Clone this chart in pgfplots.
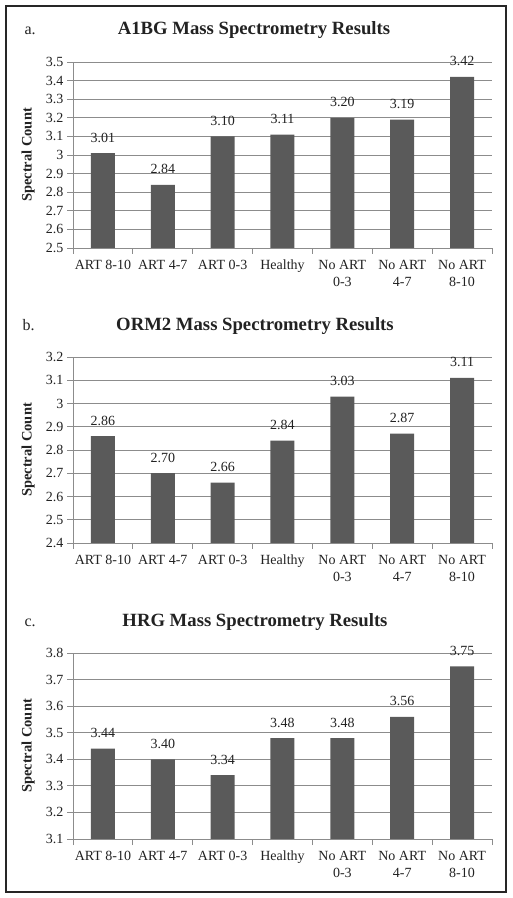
\documentclass[border=0pt]{standalone}
\usepackage{pgfplots}
\pgfplotsset{compat=1.18}
\usepackage{fontspec}
\setmainfont{Liberation Serif}
\definecolor{barc}{HTML}{5A5A5A}
\definecolor{gridc}{HTML}{8C8C8C}
\definecolor{txt}{HTML}{222222}
\pgfplotsset{
  mychart/.style={
    scale only axis, width=419pt, height=186pt,
    xmin=-0.5, xmax=6.5,
    axis lines*=left,
    axis line style={draw=gridc, line width=0.8pt},
    xtick={0,1,2,3,4,5,6},
    xticklabels={{\strut ART 8-10}, {\strut ART 4-7}, {\strut ART 0-3}, {\strut Healthy}, {\strut No ART\\0-3}, {\strut No ART\\4-7}, {\strut No ART\\8-10}},
    xticklabel style={align=center, font=\fontsize{14}{17}\selectfont, text=txt, anchor=north, yshift=0pt},
    yticklabel style={font=\fontsize{14}{15}\selectfont, text=txt},
    /pgf/number format/assume math mode=true,
    minor xtick={-0.5,0.5,1.5,2.5,3.5,4.5,5.5,6.5},
    major tick length=6pt, minor tick length=6pt,
    tick align=outside,
    tick style={draw=gridc, line width=0.8pt},
    major x tick style={draw=none},
    ymajorgrids, grid style={draw=gridc, line width=0.8pt},
    clip mode=individual,
    ylabel={Spectral Count},
    every axis y label/.style={at={(axis description cs:-0.107,0.5)}, rotate=90, anchor=center, font=\bfseries\fontsize{14.5}{16}\selectfont, text=txt},
    ybar, bar width=24pt,
    nodes near coords={\pgfmathprintnumber[fixed,fixed zerofill,precision=2]{\pgfplotspointmeta}},
    every node near coord/.append style={anchor=base, yshift=11pt, font=\fontsize{14}{15}\selectfont, text=txt},
  }
}
\begin{document}
\begin{tikzpicture}[x=1pt,y=1pt]
\useasboundingbox (0,0) rectangle (512,898);
\draw[line width=1.2pt, black!85] (6,6) rectangle (506,892);
% panel a
\node[font=\fontsize{16}{18}\selectfont, text=txt, anchor=base west] at (21,863) {a.};
\node[font=\bfseries\fontsize{18.7}{20}\selectfont, text=txt, anchor=base] at (254,863) {A1BG Mass Spectrometry Results};
\begin{axis}[mychart, at={(73pt,650pt)}, anchor=south west, ymin=2.5, ymax=3.5,
  ytick={2.5,2.6,2.7,2.8,2.9,3,3.1,3.2,3.3,3.4,3.5}]
\addplot[fill=barc, draw=none] coordinates {(0,3.01) (1,2.84) (2,3.10) (3,3.11) (4,3.20) (5,3.19) (6,3.42)};
\end{axis}
% panel b
\node[font=\fontsize{16}{18}\selectfont, text=txt, anchor=base west] at (19,567) {b.};
\node[font=\bfseries\fontsize{18.7}{20}\selectfont, text=txt, anchor=base] at (255,567) {ORM2 Mass Spectrometry Results};
\begin{axis}[mychart, at={(73pt,355pt)}, anchor=south west, ymin=2.4, ymax=3.2,
  ytick={2.4,2.5,2.6,2.7,2.8,2.9,3,3.1,3.2}]
\addplot[fill=barc, draw=none] coordinates {(0,2.86) (1,2.70) (2,2.66) (3,2.84) (4,3.03) (5,2.87) (6,3.11)};
\end{axis}
% panel c
\node[font=\fontsize{16}{18}\selectfont, text=txt, anchor=base west] at (21,271) {c.};
\node[font=\bfseries\fontsize{18.7}{20}\selectfont, text=txt, anchor=base] at (255,271) {HRG Mass Spectrometry Results};
\begin{axis}[mychart, at={(73pt,59pt)}, anchor=south west, ymin=3.1, ymax=3.8,
  ytick={3.1,3.2,3.3,3.4,3.5,3.6,3.7,3.8}]
\addplot[fill=barc, draw=none] coordinates {(0,3.44) (1,3.40) (2,3.34) (3,3.48) (4,3.48) (5,3.56) (6,3.75)};
\end{axis}
\end{tikzpicture}
\end{document}
